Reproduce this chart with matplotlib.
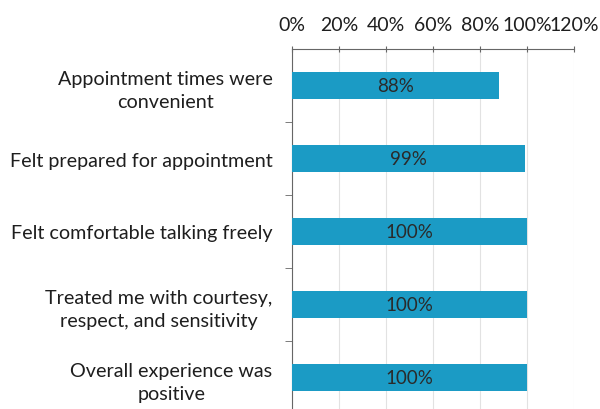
import matplotlib.pyplot as plt
import numpy as np

plt.rcParams['font.family'] = ['Lato', 'DejaVu Sans']

categories = ['Appointment times were\nconvenient',
              'Felt prepared for appointment',
              'Felt comfortable talking freely',
              'Treated me with courtesy,\nrespect, and sensitivity',
              'Overall experience was\npositive']
values = [0.88, 0.99, 1.00, 1.00, 1.00]
tick_values = [0, 0.2, 0.4, 0.6, 0.8, 1.0, 1.2]
tick_labels = ['0%', '20%', '40%', '60%', '80%', '100%', '120%']

bar_color = '#1b9bc5'
text_color = '#1e1e1e'

fig = plt.figure(figsize=(6, 4.1), dpi=100)
ax = fig.add_axes([292 / 600, -5 / 410, (574 - 292) / 600, (415 - 50) / 410])

y = np.arange(len(categories))
ax.barh(y, values, height=0.38, color=bar_color, zorder=3)

for yi, v in zip(y, values):
    ax.text(v / 2, yi, '{:.0f}%'.format(v * 100), ha='center', va='center',
            fontsize=13.5, color='#2a2a2a', zorder=4)

ax.set_xlim(0, 1.2)
ax.set_ylim(len(categories) - 0.5, -0.5)

ax.xaxis.tick_top()
ax.set_xticks(tick_values)
ax.set_xticklabels(tick_labels, fontsize=14, color=text_color)
ax.tick_params(axis='x', direction='inout', length=5, color='#666666', pad=9)

ax.set_yticks(y)
ax.set_yticklabels(categories, fontsize=14.2, color=text_color, ha='right',
                   multialignment='center', linespacing=1.4)
ax.set_yticks(np.arange(len(categories) - 1) + 0.5, minor=True)
ax.tick_params(axis='y', which='major', length=0, pad=14)
ax.tick_params(axis='y', which='minor', direction='out', length=5, color='#666666')

ax.grid(axis='x', color='#e2e2e2', linewidth=0.8, zorder=0)

for side in ['right', 'bottom']:
    ax.spines[side].set_visible(False)
ax.spines['top'].set_color('#666666')
ax.spines['left'].set_color('#666666')

plt.savefig('out.png', dpi=100)
